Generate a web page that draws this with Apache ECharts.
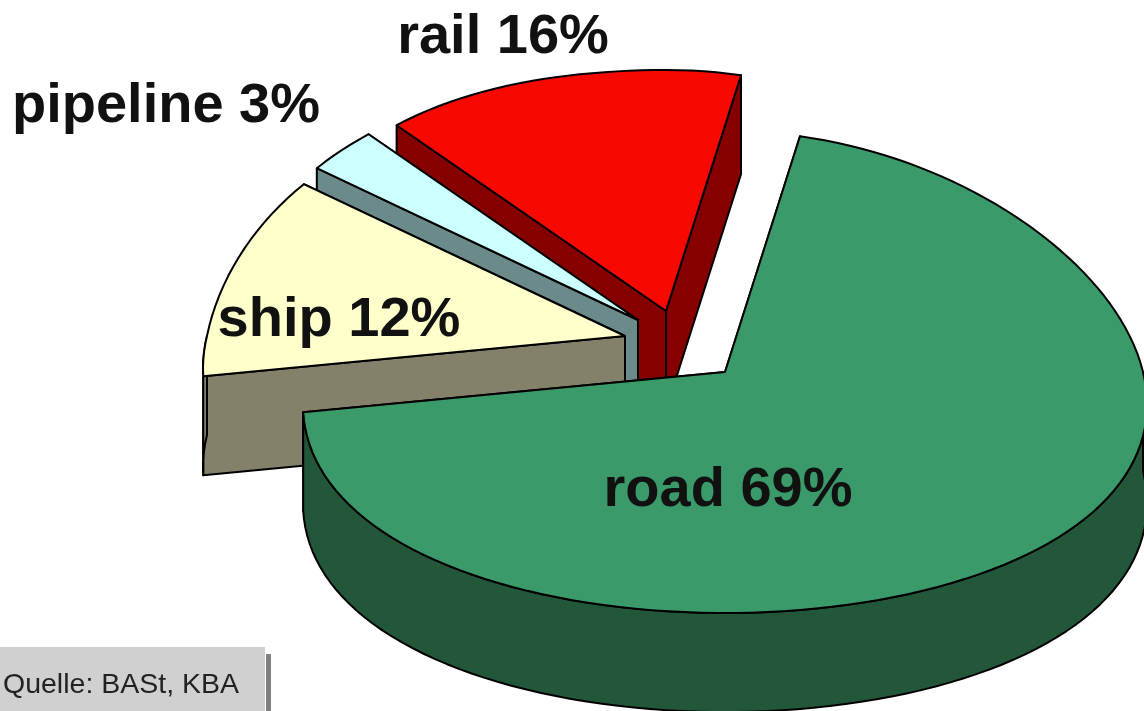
<!DOCTYPE html>
<html>
<head>
<meta charset="utf-8">
<title>Modal split</title>
<script src="https://cdn.jsdelivr.net/npm/echarts@6/dist/echarts.min.js"></script>
<style>
  html, body { margin: 0; padding: 0; background: #fff; }
  #chart { width: 1144px; height: 711px; }
</style>
</head>
<body>
<div id="chart"></div>
<script>
// drawn back to front, running counter-clockwise from the rear
var categories = ['rail', 'pipeline', 'ship', 'road'];
var shares = [16, 3, 12, 69];
var sourceNote = 'Quelle: BASt, KBA';

var topColors = ['#f70800', '#ccffff', '#ffffcc', '#3a9a6a'];
var wallColors = ['#860000', '#6b8a8a', '#84816a', '#23573a'];
var apexes = [[666, 311], [638, 320], [625, 336], [725, 372]];
var labelPos = [[503, 38], [166, 107], [339, 321], [728, 491]];

var radiusX = 418, radiusY = 241, depth = 99;
var perspective = 0.14;   // rear of the pie is narrower than the front
var rearLift = 48;        // rear left of the ellipse sits a bit higher
var lastAngle = 372;      // clockwise from the top, where rail ends

function point(apex, angle, drop) {
    var t = angle * Math.PI / 180;
    var u = Math.sin(t), v = -Math.cos(t);
    var lift = (u < 0 && v < 0) ? rearLift * u * u * -v : 0;
    return [apex[0] + radiusX * u * (1 + perspective * v), apex[1] + radiusY * v - lift + (drop || 0)];
}

function arc(apex, from, to, drop) {
    var pts = [], n = Math.ceil(Math.abs(to - from) / 2);
    for (var i = 0; i <= n; i++) {
        pts.push(point(apex, from + (to - from) * i / n, drop));
    }
    return pts;
}

function poly(points, fill) {
    return {
        type: 'polygon',
        shape: { points: points },
        style: { fill: fill, stroke: '#000', lineWidth: 2, lineJoin: 'round' }
    };
}

function renderSlice(params, api) {
    var i = params.dataIndex;
    var total = shares.reduce(function (a, b) { return a + b; }, 0);
    var to = lastAngle;
    for (var k = 0; k < i; k++) {
        to -= shares[k] / total * 360;
    }
    var from = to - api.value(0) / total * 360;
    var apex = apexes[i], wall = wallColors[i];
    var low = [apex[0], apex[1] + depth];
    var children = [
        poly([apex, point(apex, to), point(apex, to, depth), low], wall),
        poly([apex, point(apex, from), point(apex, from, depth), low], wall)
    ];
    // outer wall only shows on the front half of the pie
    var wallFrom = Math.max(from, 90), wallTo = Math.min(to, 270);
    if (wallTo > wallFrom) {
        children.push(poly(arc(apex, wallFrom, wallTo, 0).concat(arc(apex, wallTo, wallFrom, depth)), wall));
    }
    children.push(poly([apex].concat(arc(apex, from, to, 0)), topColors[i]));
    return { type: 'group', children: children };
}

var labels = categories.map(function (name, i) {
    return {
        type: 'text',
        x: labelPos[i][0],
        y: labelPos[i][1],
        z: 10,
        style: {
            text: name + ' ' + shares[i] + '%',
            fill: '#111',
            font: 'bold 56px "Liberation Sans", Arial, sans-serif',
            textAlign: 'center',
            textVerticalAlign: 'middle'
        }
    };
});

var chart = echarts.init(document.getElementById('chart'));
chart.setOption({
    animation: false,
    backgroundColor: '#fff',
    series: [{
        type: 'custom',
        coordinateSystem: 'none',
        silent: true,
        data: shares.map(function (s) { return [s]; }),
        renderItem: renderSlice
    }],
    graphic: labels.concat([
        { type: 'rect', z: 5, shape: { x: 0, y: 647, width: 265, height: 64 }, style: { fill: '#d0d0d0' } },
        { type: 'rect', z: 5, shape: { x: 266, y: 654, width: 5, height: 57 }, style: { fill: '#808080' } },
        {
            type: 'text', z: 10, x: 3, y: 685,
            style: {
                text: sourceNote,
                fill: '#222',
                font: '28.5px "Liberation Sans", Arial, sans-serif',
                textAlign: 'left',
                textVerticalAlign: 'middle'
            }
        }
    ])
});
</script>
</body>
</html>
